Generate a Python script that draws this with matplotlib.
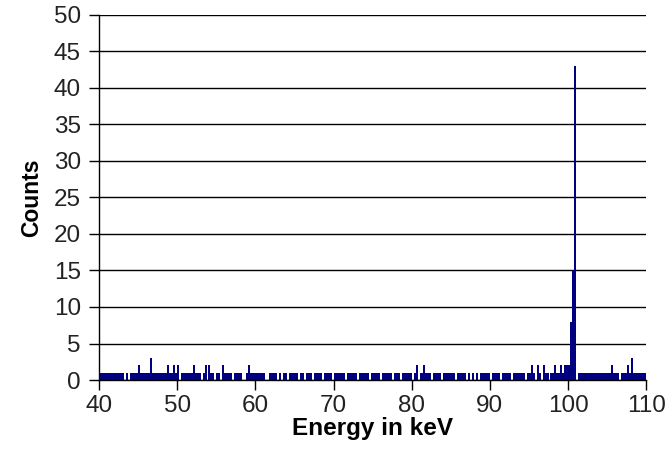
import numpy as np
import matplotlib
matplotlib.use("Agg")
import matplotlib.pyplot as plt

plt.rcParams['font.family'] = ['Liberation Sans', 'DejaVu Sans']

# Spectrum: counts per 0.25 keV bin, starting at 40 keV (one row per 10 keV)
bin_width = 0.25
start_energy = 40
counts_40_50 = [1,1,1,1, 1,1,1,1, 1,1,1,1, 1,0,1,0, 1,1,1,1, 2,1,1,1, 1,1,3,1, 1,1,1,1, 1,1,1,2, 1,1,2,1]
counts_50_60 = [2,0,1,1, 1,1,1,1, 2,1,1,1, 0,1,2,0, 2,1,1,0, 1,1,0,2, 1,1,1,1, 0,1,1,1, 1,0,0,1, 2,1,1,1]
counts_60_70 = [1,1,1,1, 1,0,0,1, 1,1,1,0, 1,0,1,1, 0,1,1,1, 1,1,0,1, 1,0,1,1, 1,0,1,1, 1,1,0,1, 1,1,1,0]
counts_70_80 = [1,1,1,1, 1,1,0,1, 1,1,1,1, 0,1,1,1, 1,1,0,1, 1,1,1,1, 0,1,1,1, 1,1,0,1, 1,1,0,1, 1,1,1,1]
counts_80_90 = [0,1,2,0, 1,1,2,1, 1,1,0,1, 1,1,1,0, 1,1,1,1, 1,1,0,1, 1,1,1,1, 0,1,0,1, 0,1,0,1, 1,1,1,1]
counts_90_100 = [0,1,1,1, 1,0,1,1, 1,1,1,0, 1,1,1,1, 1,1,0,1, 1,2,1,0, 2,1,0,2, 1,1,0,1, 1,2,1,1, 2,1,2,2]
counts_100_110 = [2,8,15,43, 0,1,1,1, 1,1,1,1, 1,1,1,1, 1,1,1,1, 1,1,2,1, 1,1,0,1, 1,1,2,1, 3,1,1,1, 1,1,1,1]

counts = np.array(counts_40_50 + counts_50_60 + counts_60_70 + counts_70_80
                  + counts_80_90 + counts_90_100 + counts_100_110)
energies = start_energy + bin_width * np.arange(len(counts))

x_ticks = [40, 50, 60, 70, 80, 90, 100, 110]
y_ticks = [0, 5, 10, 15, 20, 25, 30, 35, 40, 45, 50]

fig = plt.figure(figsize=(6.69, 4.61), dpi=100)
ax = fig.add_axes([0.148, 0.1757, 0.818, 0.7918])

ax.bar(energies, counts, width=bin_width, align='edge', color='#000080',
       linewidth=0, zorder=3)

ax.set_xlim(40, 110)
ax.set_ylim(0, 50)
ax.set_xticks(x_ticks)
ax.set_yticks(y_ticks)
ax.yaxis.grid(True, color='black', linewidth=1.0, zorder=0)
ax.set_axisbelow(True)
for s in ['top', 'right']:
    ax.spines[s].set_visible(False)
for s in ['left', 'bottom']:
    ax.spines[s].set_color('black')
    ax.spines[s].set_linewidth(1.0)
    ax.spines[s].set_zorder(4)

ax.tick_params(axis='both', direction='out', length=7, width=1, colors='black',
               labelsize=17.5, labelcolor='#222222')
ax.tick_params(axis='y', pad=6)
ax.tick_params(axis='x', pad=4)
ax.set_xlabel('Energy in keV', fontsize=17.5, fontweight='bold', labelpad=0)
ax.set_ylabel('Counts', fontsize=16.5, fontweight='bold', labelpad=8)

fig.savefig('out.png', dpi=100)
